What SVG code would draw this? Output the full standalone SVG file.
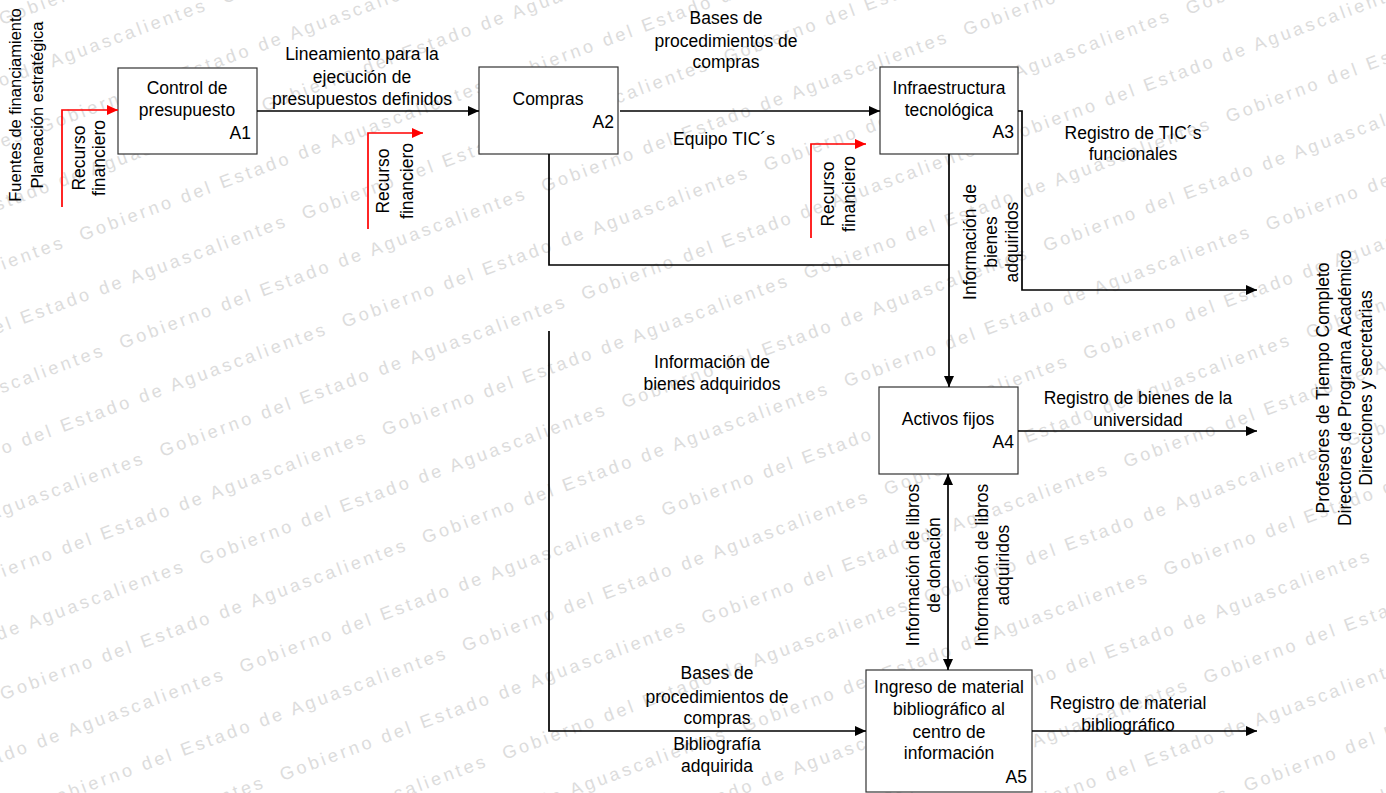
<svg xmlns="http://www.w3.org/2000/svg" xmlns:xlink="http://www.w3.org/1999/xlink" width="1386" height="793" viewBox="0 0 1386 793">
<style>
.wm{font-family:"Liberation Sans",Arial,sans-serif;font-size:18px;fill:#dcdcdc;letter-spacing:3.2px;white-space:pre}
.box{fill:#fff;stroke:#333;stroke-width:1.2}
.t{font-family:"Liberation Sans",Arial,sans-serif;font-size:17.5px;fill:#000}
.m{text-anchor:middle}
.e{text-anchor:end}
.s{font-size:16.5px}
.c{fill:none;stroke:#000;stroke-width:1.7}
.r{fill:none;stroke:#f00;stroke-width:1.7}
</style>
<defs>
<marker id="ah" viewBox="0 0 11 10" refX="11" refY="5" markerWidth="11" markerHeight="10" markerUnits="userSpaceOnUse" orient="auto-start-reverse"><path d="M0,0 L11,5 L0,10 z" fill="#000"/></marker>
<marker id="ahr" viewBox="0 0 11 10" refX="11" refY="5" markerWidth="11" markerHeight="10" markerUnits="userSpaceOnUse" orient="auto"><path d="M0,0 L11,5 L0,10 z" fill="#f00"/></marker>
<text id="wmrow" class="wm">Gobierno del Estado de Aguascalientes  Gobierno del Estado de Aguascalientes  Gobierno del Estado de Aguascalientes  Gobierno del Estado de Aguascalientes  Gobierno del Estado de Aguascalientes</text>
</defs>
<rect width="1386" height="793" fill="#fff"/>
<g id="watermark" transform="rotate(-20.36)">
<use xlink:href="#wmrow" x="-907" y="24"/>
<use xlink:href="#wmrow" x="-691" y="81.6"/>
<use xlink:href="#wmrow" x="-907" y="139.2"/>
<use xlink:href="#wmrow" x="-691" y="196.8"/>
<use xlink:href="#wmrow" x="-907" y="254.4"/>
<use xlink:href="#wmrow" x="-691" y="312"/>
<use xlink:href="#wmrow" x="-907" y="369.6"/>
<use xlink:href="#wmrow" x="-691" y="427.2"/>
<use xlink:href="#wmrow" x="-907" y="484.8"/>
<use xlink:href="#wmrow" x="-691" y="542.4"/>
<use xlink:href="#wmrow" x="-907" y="600"/>
<use xlink:href="#wmrow" x="-691" y="657.6"/>
<use xlink:href="#wmrow" x="-907" y="715.2"/>
<use xlink:href="#wmrow" x="-691" y="772.8"/>
<use xlink:href="#wmrow" x="-907" y="830.4"/>
<use xlink:href="#wmrow" x="-691" y="888"/>
<use xlink:href="#wmrow" x="-907" y="945.6"/>
<use xlink:href="#wmrow" x="-691" y="1003.2"/>
<use xlink:href="#wmrow" x="-907" y="1060.8"/>
<use xlink:href="#wmrow" x="-691" y="1118.4"/>
<use xlink:href="#wmrow" x="-907" y="1176"/>
<use xlink:href="#wmrow" x="-691" y="1233.6"/>
</g>
<g id="A1">
<rect class="box" x="118" y="68" width="139" height="86"/>
<text class="t m" x="187" y="94">Control de</text>
<text class="t m" x="187" y="116">presupuesto</text>
<text class="t e" x="251" y="139">A1</text>
</g>
<g id="A2">
<rect class="box" x="479" y="67" width="139" height="87"/>
<text class="t m" x="548" y="105">Compras</text>
<text class="t e" x="614" y="128">A2</text>
</g>
<g id="A3">
<rect class="box" x="880" y="67" width="138" height="87"/>
<text class="t m" x="949" y="94">Infraestructura</text>
<text class="t m" x="949" y="116">tecnológica</text>
<text class="t e" x="1014" y="138">A3</text>
</g>
<g id="A4">
<rect class="box" x="879" y="387" width="139" height="87"/>
<text class="t m" x="948" y="425">Activos fijos</text>
<text class="t e" x="1014" y="448">A4</text>
</g>
<g id="A5">
<rect class="box" x="866" y="670" width="166" height="122"/>
<text class="t m" x="949" y="693">Ingreso de material</text>
<text class="t m" x="949" y="715">bibliográfico al</text>
<text class="t m" x="949" y="738">centro de</text>
<text class="t m" x="949" y="759">información</text>
<text class="t e" x="1027" y="783">A5</text>
</g>
<g id="connectors">
<path class="c" d="M257,111 H479" marker-end="url(#ah)"/>
<path class="c" d="M620,111 H880" marker-end="url(#ah)"/>
<path class="c" d="M1018,111 H1022 V290 H1257" marker-end="url(#ah)"/>
<path class="c" d="M549,154 V265 H949"/>
<path class="c" d="M949,154 V387" marker-end="url(#ah)"/>
<path class="c" d="M549,331 V731 H866" marker-end="url(#ah)"/>
<path class="c" d="M1018,431 H1257" marker-end="url(#ah)"/>
<path class="c" d="M948,474 V670" marker-start="url(#ah)" marker-end="url(#ah)"/>
<path class="c" d="M1032,731 H1257" marker-end="url(#ah)"/>
<path class="r" d="M62,207 V110 H118" marker-end="url(#ahr)"/>
<path class="r" d="M368,229 V133 H423" marker-end="url(#ahr)"/>
<path class="r" d="M811,238 V144 H866" marker-end="url(#ahr)"/>
</g>
<g id="labels">
<text class="t m" x="362" y="60">Lineamiento para la</text>
<text class="t m" x="362" y="83">ejecución de</text>
<text class="t m" x="362" y="105">presupuestos definidos</text>
<text class="t m" x="726" y="24">Bases de</text>
<text class="t m" x="726" y="47">procedimientos de</text>
<text class="t m" x="726" y="68">compras</text>
<text class="t m" x="724" y="145">Equipo TIC´s</text>
<text class="t m" x="1133" y="139">Registro de TIC´s</text>
<text class="t m" x="1133" y="160">funcionales</text>
<text class="t m" x="712" y="368">Información de</text>
<text class="t m" x="712" y="390">bienes adquiridos</text>
<text class="t m" x="1138" y="404">Registro de bienes de la</text>
<text class="t m" x="1138" y="426">universidad</text>
<text class="t m" x="717" y="679">Bases de</text>
<text class="t m" x="717" y="703">procedimientos de</text>
<text class="t m" x="717" y="724">compras</text>
<text class="t m" x="717" y="750">Bibliografía</text>
<text class="t m" x="717" y="772">adquirida</text>
<text class="t m" x="1128" y="709">Registro de material</text>
<text class="t m" x="1128" y="731">bibliográfico</text>
<g transform="translate(89,158) rotate(-90)">
<text class="t m" x="0" y="-4">Recurso</text>
<text class="t m" x="0" y="16">financiero</text>
</g>
<g transform="translate(395,181) rotate(-90)">
<text class="t m" x="0" y="-6">Recurso</text>
<text class="t m" x="0" y="18">financiero</text>
</g>
<g transform="translate(838,194) rotate(-90)">
<text class="t m" x="0" y="-4.5">Recurso</text>
<text class="t m" x="0" y="16.5">financiero</text>
</g>
<g transform="translate(991,242) rotate(-90)">
<text class="t m" x="0" y="-15">Información de</text>
<text class="t m" x="0" y="6">bienes</text>
<text class="t m" x="0" y="27">adquiridos</text>
</g>
<g transform="translate(923.5,565) rotate(-90)">
<text class="t m" x="0" y="-4.5">Información de libros</text>
<text class="t m" x="0" y="16.5">de donación</text>
</g>
<g transform="translate(992.5,565) rotate(-90)">
<text class="t m" x="0" y="-4.5">Información de libros</text>
<text class="t m" x="0" y="16.5">adquiridos</text>
</g>
</g>
<g id="source" transform="translate(26,105) rotate(-90)">
<text class="t s m" x="0" y="-5">Fuentes de financiamiento</text>
<text class="t s m" x="0" y="17">Planeación estratégica</text>
</g>
<g id="destination" transform="translate(1345,388) rotate(-90)">
<text class="t m" x="0" y="-16">Profesores de Tiempo Completo</text>
<text class="t m" x="0" y="6">Directores de Programa Académico</text>
<text class="t m" x="0" y="27">Direcciones y secretarias</text>
</g>
</svg>
